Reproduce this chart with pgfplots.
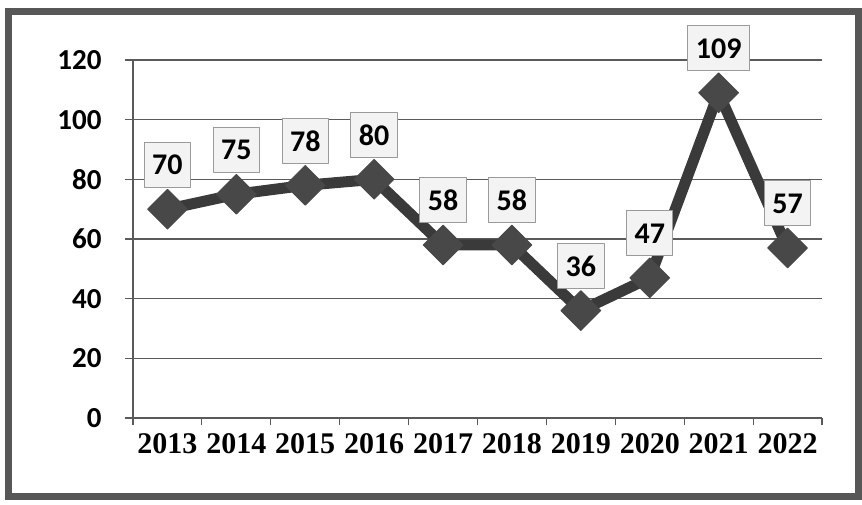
\documentclass[border=0pt]{standalone}
\usepackage{fontspec}
\setmainfont{Liberation Serif}
\newfontfamily\carlito{Carlito}
\usepackage{pgfplots}
\pgfplotsset{compat=1.18}

\definecolor{linegray}{HTML}{3A3A3A}
\definecolor{markgray}{HTML}{484848}
\definecolor{gridgray}{HTML}{5A5A5A}
\definecolor{framegray}{HTML}{575757}
\definecolor{boxfill}{HTML}{F3F3F3}
\definecolor{boxline}{HTML}{9A9A9A}

\pgfplotstableread{
x y lab
0 70 70
1 75 75
2 78 78
3 80 80
4 58 58
5 58 58
6 36 36
7 47 47
8 109 109
9 57 57
}\visits

\begin{document}
\begin{tikzpicture}
% page = 862 x 504, axis box corner at (0,0)
\useasboundingbox (-133pt,-86pt) rectangle (729pt,418pt);
\begin{axis}[
    at={(0,0)}, anchor=south west,
    scale only axis,
    width=689pt, height=358pt,
    xmin=-0.5, xmax=9.5,
    ymin=0, ymax=120,
    clip=false,
    axis lines=left,
    axis line style={-, draw=gridgray, line width=1.2pt},
    ymajorgrids,
    grid style={draw=gridgray, line width=1.1pt},
    xtick={0,...,9},
    xticklabels={2013,2014,2015,2016,2017,2018,2019,2020,2021,2022},
    minor xtick={-0.5,0.5,...,9.5},
    major x tick style={draw=none},
    minor x tick style={draw=gridgray, line width=1.1pt},
    minor tick length=7pt,
    ytick={0,20,...,120},
    major tick length=8pt,
    ytick style={draw=gridgray, line width=1.1pt},
    tick align=outside,
    /pgf/number format/assume math mode=true,
    xticklabel style={font=\bfseries\fontsize{30}{31}\selectfont, yshift=-4pt},
    yticklabel style={font=\carlito\bfseries\fontsize{29}{30}\selectfont, xshift=-20pt},
]
\addplot[
    draw=linegray, line width=11pt, line join=round,
    mark=square*, mark size=14pt,
    mark options={rotate=45, draw=markgray, fill=markgray, line width=1pt},
    nodes near coords,
    point meta=explicit symbolic,
    nodes near coords style={
        anchor=south, yshift=22pt, outer sep=0pt,
        font=\carlito\bfseries\fontsize{30}{31}\selectfont,
        text=black, fill=boxfill, draw=boxline, line width=1pt,
        inner xsep=8pt, inner ysep=0pt,
        minimum height=45pt,
    },
] table[x=x, y=y, meta=lab] {\visits};
\end{axis}
\draw[framegray, line width=7pt] (-124.5pt,-78pt) rectangle (725pt,406pt);
\end{tikzpicture}
\end{document}
